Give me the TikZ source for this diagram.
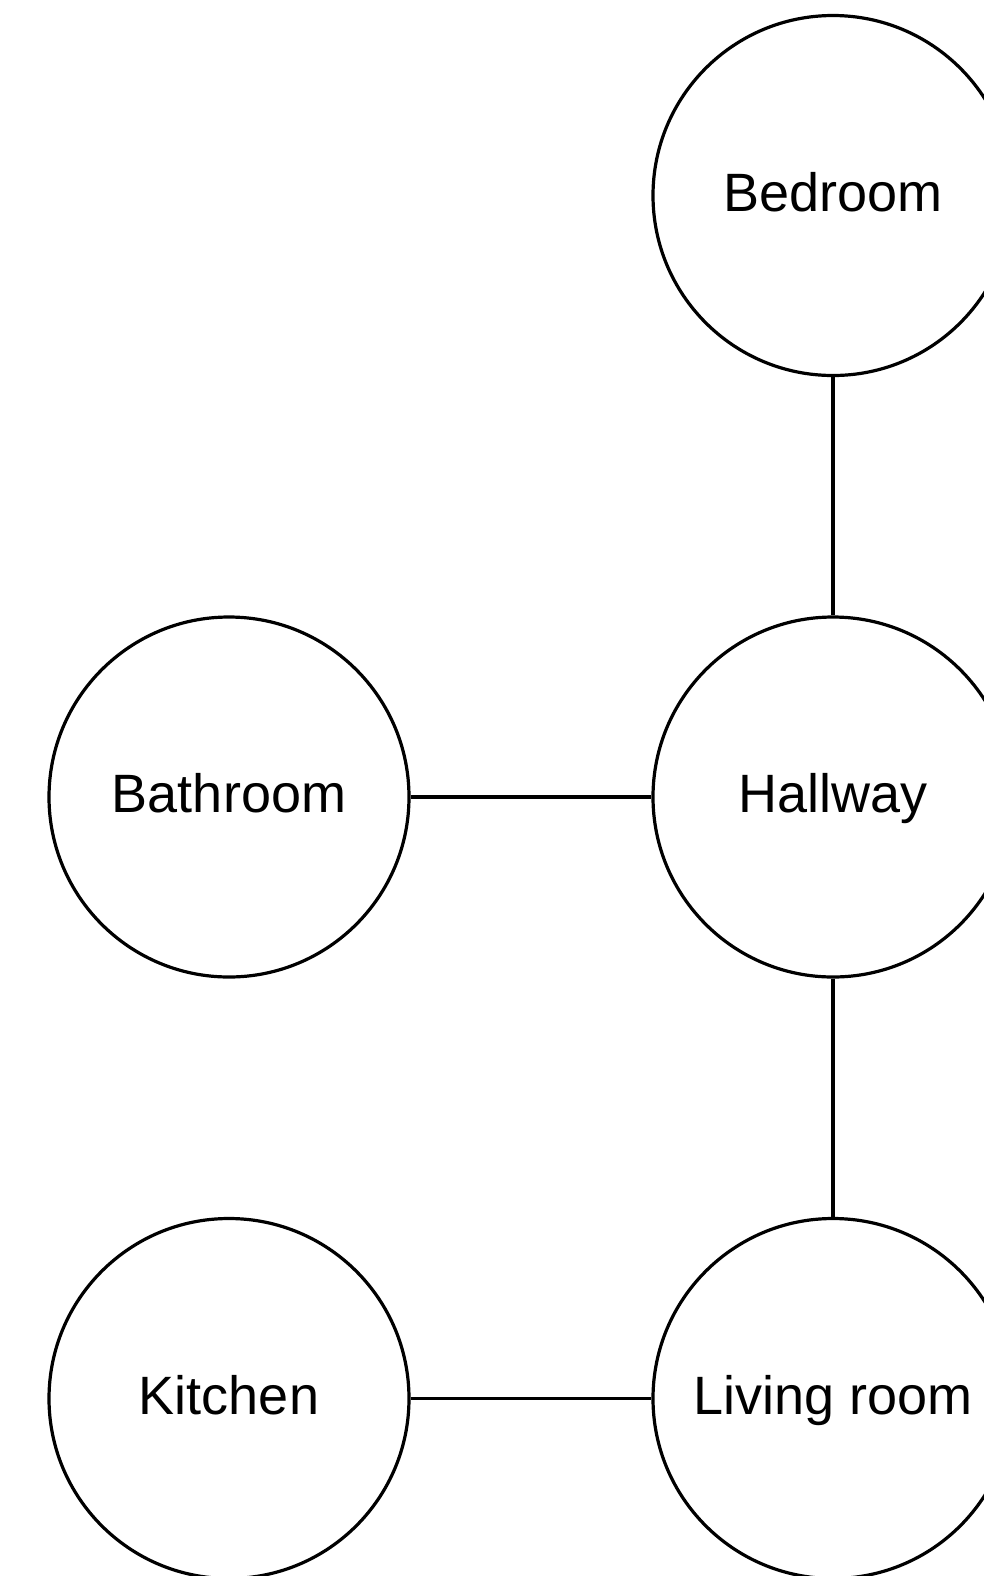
\documentclass[tikz,border=0pt]{standalone}
\usepackage{fontspec}
\setmainfont{Liberation Sans}
\tikzset{
        room/.style={circle, draw=black, line width=1.6pt, minimum size=180pt, inner sep=0pt,
          text height=20pt, text depth=4.5pt, font=\fontsize{27}{32}\selectfont},
        door/.style={draw=black, line width=1.6pt}
          }

\begin{document}
\begin{tikzpicture}[x=0.5pt, y=-0.5pt]
            \clip (0,0) rectangle (984,1576);
            \node[room] (bedroom) at (833,195.5) {Bedroom};
            \node[room] (hallway) at (833,797) {Hallway};
            \node[room] (bathroom) at (229,797) {Bathroom};
            \node[room] (living) at (833,1398.5) {Living room};
            \node[room] (kitchen) at (229,1398.5) {Kitchen};
            \draw[door] (bedroom) -- (hallway);
            \draw[door] (bathroom) -- (hallway);
            \draw[door] (hallway) -- (living);
            \draw[door] (kitchen) -- (living);
          \end{tikzpicture}
\end{document}
